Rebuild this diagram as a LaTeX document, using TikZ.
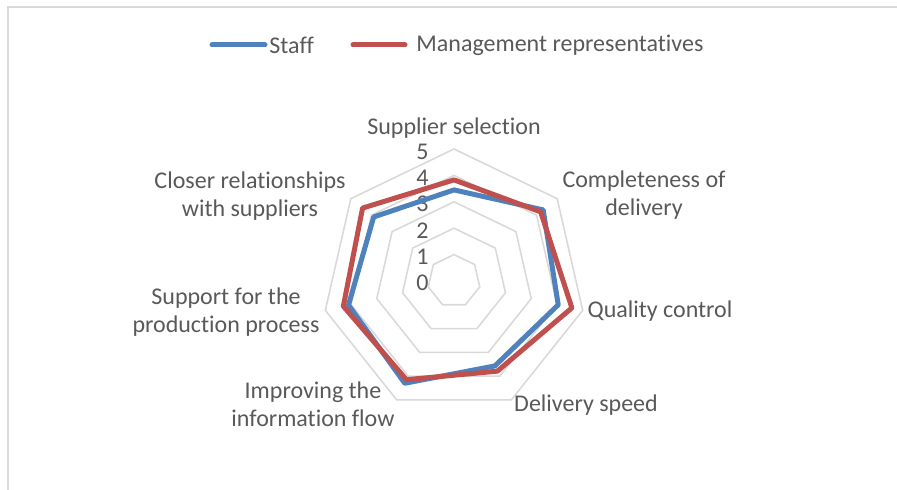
\documentclass[tikz,border=0pt]{standalone}
\usepackage{fontspec}
\setmainfont{Carlito}[Ligatures=NoCommon]
\usetikzlibrary{positioning}
\definecolor{staffblue}{HTML}{4F81BD}
\definecolor{mgmtred}{HTML}{C0504D}
\definecolor{gridgrey}{HTML}{D9D9D9}
\definecolor{labelgrey}{HTML}{595959}
\newcommand{\radunit}{26.4}

\tikzset{
  gridline/.style={gridgrey, line width=0.8pt},
  staffline/.style={staffblue, line width=2.5pt, line join=round, line cap=round},
  mgmtline/.style={mgmtred, line width=2.5pt, line join=round, line cap=round},
  axislabel/.style={text=labelgrey, inner sep=0pt, align=center, font=\fontsize{12}{14.2}\selectfont},
}

\begin{document}
\begin{tikzpicture}[x=0.5pt, y=0.5pt]
	\useasboundingbox (0,0) rectangle (897,490);
	\clip (0,0) rectangle (897,490);
	% chart frame
	\draw[gridline] (8,-10) -- (8,483) -- (910,483);

	% legend
	\coordinate (staffA) at (212,445);
	\coordinate (staffB) at (265,445);
	\coordinate (mgmtA) at (353,445);
	\coordinate (mgmtB) at (405,445);
	\node[axislabel, anchor=west] (stafftxt) at (269,445) {Staff};
	\node[axislabel, anchor=west] (mgmttxt) at (416,445) {Management representatives};
	\draw[staffline] (staffA) -- (staffB);
	\draw[mgmtline] (mgmtA) -- (mgmtB);

	\begin{scope}[shift={(454,209)}]
		\coordinate (ctr) at (0,0);
		% grid
		\foreach \lvl in {1,...,5}
			\draw[gridline] (90:\radunit*\lvl) \foreach \k in {1,...,6} {-- (90-\k*360/7:\radunit*\lvl)} -- cycle;
		% scale
		\foreach \lvl in {0,...,5}
			\node[axislabel, anchor=east] (tick\lvl) at (-25,-2+26.3*\lvl) {\lvl};

		% series
		\draw[staffline] (90:3.45*\radunit) -- (38.571:4.32*\radunit) -- (-12.857:4.05*\radunit)
			-- (-64.286:3.57*\radunit) -- (-115.714:4.30*\radunit) -- (-167.143:4.10*\radunit)
			-- (141.429:3.89*\radunit) -- cycle;
		\draw[mgmtline] (90:3.83*\radunit) -- (38.571:4.20*\radunit) -- (-12.857:4.58*\radunit)
			-- (-64.286:3.79*\radunit) -- (-115.714:4.15*\radunit) -- (-167.143:4.30*\radunit)
			-- (141.429:4.43*\radunit) -- cycle;
	\end{scope}

	% category labels
	\node[axislabel] (supsel) at (454,362) {Supplier selection};
	\node[axislabel] (complete) at (644,295) {Completeness of\\delivery};
	\node[axislabel] (quality) at (660,179) {Quality control};
	\node[axislabel] (speed) at (586,85) {Delivery speed};
	\node[axislabel] (infoflow) at (313,86) {Improving the\\information flow};
	\node[axislabel] (support) at (226,178) {Support for the\\production process};
	\node[axislabel] (closer) at (250,294) {Closer relationships\\with suppliers};
\end{tikzpicture}
\end{document}
